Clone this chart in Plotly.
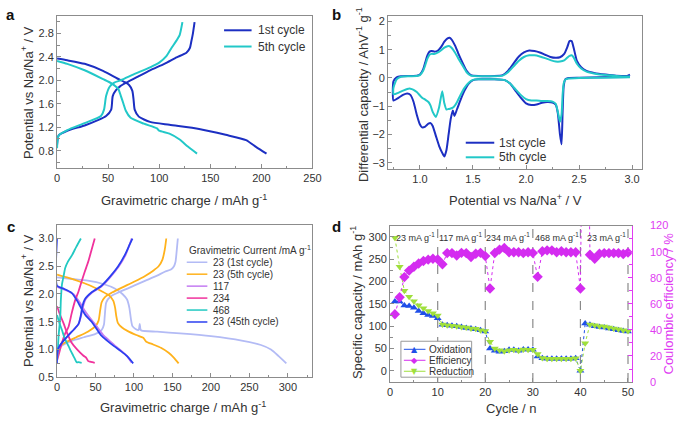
import plotly.graph_objects as go

W, H = 686, 424
FONT = "Liberation Sans, Arial, sans-serif"
TXT = "#333333"
AX = "#8c8c8c"

# ---------------- panel a : galvanostatic profiles ----------------
a_c1_dis_q = [0, 10, 27, 45, 59, 66, 70.5, 73.7, 75, 76, 80, 91, 110, 139, 165, 185, 195, 205]
a_c1_dis_v = [2.37, 2.34, 2.28, 2.16, 2.03, 1.97, 1.92, 1.82, 1.65, 1.50, 1.38, 1.29, 1.24, 1.17, 1.07, 0.98, 0.86, 0.75]
a_c1_ch_q = [0, 1.6, 10, 27, 40, 48, 53, 54.5, 57.7, 62, 69, 80, 91, 105, 117, 126.6, 130, 131.4, 133, 134.6]
a_c1_ch_v = [0.90, 1.06, 1.14, 1.23, 1.32, 1.39, 1.50, 1.73, 1.83, 1.90, 1.97, 2.07, 2.17, 2.28, 2.39, 2.47, 2.55, 2.66, 2.80, 2.99]
a_c5_dis_q = [0, 10, 27, 45, 53, 60, 62.5, 65, 67.3, 72, 85, 97.8, 100, 110, 120, 128, 137]
a_c5_dis_v = [2.33, 2.28, 2.17, 2.02, 1.95, 1.85, 1.73, 1.60, 1.48, 1.36, 1.26, 1.18, 1.14, 1.09, 0.99, 0.87, 0.75]
a_c5_ch_q = [0, 1.6, 10, 27, 43, 46, 48, 51.5, 56, 62.5, 75, 91, 100, 107, 112, 117, 120, 122.7]
a_c5_ch_v = [0.84, 1.06, 1.15, 1.27, 1.39, 1.50, 1.73, 1.89, 1.96, 2.00, 2.10, 2.22, 2.30, 2.41, 2.55, 2.68, 2.77, 2.99]

# ---------------- panel b : differential capacity ----------------
b_red_v = [2.98, 2.7, 2.5, 2.40, 2.37, 2.355, 2.345, 2.335, 2.32, 2.30, 2.28, 2.25, 2.20, 2.15, 2.10, 2.05,
           2.00, 1.95, 1.90, 1.85, 1.80, 1.70, 1.55, 1.50, 1.46, 1.42, 1.38, 1.35, 1.325, 1.31, 1.29, 1.27,
           1.25, 1.23, 1.21, 1.18, 1.15, 1.12, 1.10, 1.08, 1.05, 1.02, 1.00, 0.97, 0.94, 0.91, 0.88, 0.84, 0.80, 0.75]
b_c1_red_i = [0.03, 0.02, 0.01, 0.0, -0.05, -0.3, -1.2, -2.35, -2.0, -1.25, -0.95, -0.87, -0.85, -0.88, -0.94, -0.96,
              -0.9, -0.7, -0.45, -0.2, -0.08, -0.05, -0.05, -0.08, -0.2, -0.45, -0.8, -1.1, -1.35, -1.15, -1.45, -2.0,
              -2.55, -2.78, -2.65, -2.4, -2.05, -1.7, -1.6, -1.62, -1.72, -1.75, -1.65, -1.3, -0.85, -0.6, -0.55, -0.6, -0.7, -0.8]
b_c5_red_i = [0.02, 0.01, 0.0, -0.02, -0.06, -0.2, -0.6, -1.3, -1.55, -1.2, -0.92, -0.84, -0.82, -0.82, -0.8, -0.8,
              -0.75, -0.6, -0.4, -0.2, -0.08, -0.05, -0.05, -0.07, -0.17, -0.35, -0.62, -0.85, -1.0, -1.05, -1.08, -1.1,
              -1.12, -0.9, -0.47, -1.05, -1.38, -1.2, -0.98, -0.85, -0.77, -0.7, -0.62, -0.5, -0.42, -0.38, -0.39, -0.45, -0.52, -0.58]
b_ox_v = [0.75, 0.78, 0.82, 0.9, 0.97, 1.0, 1.03, 1.05, 1.07, 1.09, 1.11, 1.14, 1.17, 1.2, 1.23, 1.26, 1.28, 1.30,
          1.33, 1.36, 1.40, 1.44, 1.48, 1.55, 1.7, 1.78, 1.83, 1.88, 1.93, 1.98, 2.03, 2.08, 2.13, 2.18, 2.23, 2.28,
          2.32, 2.36, 2.39, 2.41, 2.43, 2.45, 2.48, 2.52, 2.57, 2.65, 2.75, 2.85, 2.95, 2.98]
b_c1_ox_i = [-0.12, 0.02, 0.06, 0.07, 0.08, 0.12, 0.3, 0.55, 0.8, 0.93, 0.95, 0.93, 0.97, 1.1, 1.28, 1.4, 1.42, 1.35,
             1.15, 0.88, 0.55, 0.25, 0.1, 0.07, 0.07, 0.1, 0.25, 0.5, 0.75, 0.9, 0.97, 0.95, 0.9, 0.82, 0.74, 0.71,
             0.73, 0.85, 1.1, 1.3, 1.3, 1.05, 0.6, 0.38, 0.25, 0.17, 0.12, 0.08, 0.07, 0.12]
b_c5_ox_i = [-0.35, -0.05, 0.04, 0.06, 0.07, 0.1, 0.25, 0.45, 0.68, 0.82, 0.85, 0.85, 0.9, 0.98, 1.07, 1.12, 1.12, 1.06,
             0.9, 0.7, 0.45, 0.2, 0.08, 0.06, 0.06, 0.08, 0.2, 0.4, 0.6, 0.74, 0.8, 0.8, 0.76, 0.7, 0.63, 0.58,
             0.58, 0.62, 0.72, 0.78, 0.8, 0.72, 0.5, 0.33, 0.22, 0.15, 0.1, 0.07, 0.05, 0.05]

# ---------------- panel c : rate capability profiles ----------------
c_names = ["23 (1st cycle)", "23 (5th cycle)", "117", "234", "468", "23 (45th cycle)"]
c_colors = ["#b3bbf5", "#ffb21c", "#c47cf2", "#f0329c", "#22c9c2", "#2b3ff0"]
c_ch_q = [
    [0, 2, 10, 20, 35, 50, 58, 61, 62, 64, 70, 85, 100, 115, 130, 140, 148, 152, 154, 155, 156, 157],
    [0, 2, 10, 25, 40, 50, 54, 56, 58, 62, 72, 85, 100, 115, 125, 132, 137, 140, 142],
    [0, 2, 8, 15, 22, 28, 31.5, 34, 37, 46, 58, 69, 80, 89, 94, 97],
    [0, 3, 6.4, 10, 15, 19, 23.4, 28, 32, 36, 40.5, 45, 49],
    [0, 1, 2, 3, 4.2, 5, 6.4, 8.5, 10.6, 14, 19.5, 25, 31],
    [0, 0, 2, 8, 15, 22, 28, 31, 33, 36, 45, 57, 68, 79, 88, 94, 98],
]
c_ch_v = [
    [0.9, 1.02, 1.1, 1.16, 1.22, 1.28, 1.35, 1.45, 1.6, 1.85, 1.96, 2.06, 2.15, 2.24, 2.33, 2.4, 2.44, 2.5, 2.58, 2.7, 2.85, 3.0],
    [0.9, 1.04, 1.12, 1.22, 1.32, 1.42, 1.52, 1.7, 1.85, 1.94, 2.03, 2.12, 2.22, 2.33, 2.42, 2.5, 2.62, 2.8, 3.0],
    [0.9, 1.03, 1.15, 1.26, 1.36, 1.46, 1.62, 1.78, 1.9, 2.03, 2.14, 2.3, 2.49, 2.7, 2.88, 3.0],
    [0.8, 0.95, 1.12, 1.27, 1.41, 1.65, 1.88, 2.05, 2.23, 2.4, 2.58, 2.8, 3.0],
    [0.8, 1.0, 1.24, 1.4, 1.59, 1.9, 2.17, 2.32, 2.47, 2.58, 2.7, 2.85, 3.0],
    [0.75, 0.9, 1.03, 1.15, 1.26, 1.36, 1.46, 1.62, 1.78, 1.9, 2.03, 2.14, 2.3, 2.49, 2.7, 2.88, 3.0],
]
c_dis_q = [
    [0, 20, 40, 60, 75, 85, 91, 94, 96, 98, 102, 106, 107.5, 108.5, 110, 130, 160, 200, 240, 265, 278, 288, 298],
    [0, 15, 30, 45, 58, 68, 73, 75.5, 77, 79, 84, 92, 103, 112, 116, 125, 135, 145, 152, 158],
    [0, 9, 21, 29, 35, 41, 48, 54, 60, 68, 76, 84, 91, 95, 97],
    [0, 4, 8.5, 13, 19, 26, 34, 38, 40.5, 43, 46, 49],
    [0, 3, 6.4, 10, 15, 18, 21, 23.5, 25.5, 28, 32],
    [0, 0, 8, 19, 26, 32, 38, 45, 51, 57, 65, 74, 83, 91, 96, 99],
]
c_dis_v = [
    [2.30, 2.27, 2.24, 2.18, 2.10, 2.00, 1.90, 1.75, 1.55, 1.42, 1.37, 1.35, 1.46, 1.36, 1.34, 1.32, 1.29, 1.24, 1.16, 1.08, 1.0, 0.88, 0.75],
    [2.35, 2.29, 2.22, 2.14, 2.05, 1.97, 1.88, 1.75, 1.6, 1.48, 1.40, 1.33, 1.26, 1.21, 1.14, 1.09, 1.03, 0.94, 0.85, 0.75],
    [2.13, 2.08, 2.0, 1.86, 1.72, 1.6, 1.48, 1.37, 1.26, 1.16, 1.06, 0.97, 0.88, 0.8, 0.76],
    [1.78, 1.62, 1.47, 1.3, 1.12, 1.0, 0.89, 0.85, 0.79, 0.78, 0.77, 0.76],
    [1.62, 1.48, 1.35, 1.2, 1.06, 0.97, 0.89, 0.82, 0.77, 0.77, 0.76],
    [3.0, 2.15, 2.1, 2.02, 1.88, 1.73, 1.6, 1.5, 1.38, 1.26, 1.16, 1.06, 0.97, 0.88, 0.8, 0.75],
]

# ---------------- panel d : cycling ----------------
cycles = list(range(1, 51))
oxidation = [155, 155, 146, 145, 141, 134, 129, 125, 123, 118, 103, 102, 101, 100, 98, 96, 95, 93, 91, 88,
             50, 45, 43, 44, 47, 47, 45, 48, 48, 47, 32, 28, 27, 27, 27, 27, 27, 27, 28, 0,
             106, 103, 100, 98, 97, 95, 93, 91, 89, 88]
reduction = [298, 233, 179, 166, 156, 147, 140, 134, 129, 124, 104, 102, 101, 100, 98, 97, 95, 94, 91, 89,
             65, 50, 46, 44, 46, 47, 45, 48, 47, 47, 38, 29, 27, 27, 27, 27, 27, 27, 28, 0,
             62, 104, 102, 100, 99, 97, 95, 93, 91, 89]
efficiency = [52, 65, 80.5, 85.5, 88.4, 90.9, 92.9, 93.9, 94.6, 94.1, 90.4, 98.9, 98.9, 97.1, 99.1, 98.9, 95.9, 98.4, 99.1, 96.6,
              71.8, 99, 101.6, 102.8, 99.6, 99.6, 99.6, 98.9, 99.6, 99, 80.7, 100.3, 101, 101, 99.6, 100.3, 99.6, 99.6, 99.6, 71.8,
              400, 97.6, 94.6, 98.4, 98.9, 98.9, 98.9, 98.9, 98.2, 99.3]
rate_bounds = [10, 20, 30, 40, 50]
rate_labels = ["23 mA g<sup>-1</sup>", "117 mA g<sup>-1</sup>", "234 mA g<sup>-1</sup>", "468 mA g<sup>-1</sup>", "23 mA g<sup>-1</sup>"]
rate_label_x = [5.4, 14.9, 24.8, 35.1, 45.5]

C1 = "#1c2fc2"
C5 = "#22c8c8"
OXC = "#1f4fe8"
EFC = "#d42cf0"
RDC = "#9fdf3c"
MAG = "#e03cf2"

fig = go.Figure()

# panel a
for q, v, col in [(a_c1_dis_q, a_c1_dis_v, C1), (a_c1_ch_q, a_c1_ch_v, C1),
                  (a_c5_dis_q, a_c5_dis_v, C5), (a_c5_ch_q, a_c5_ch_v, C5)]:
    fig.add_trace(go.Scatter(x=q, y=v, mode="lines", line=dict(color=col, width=2, shape="spline", smoothing=0.6),
                             xaxis="x", yaxis="y", showlegend=False))

# panel b
fig.add_trace(go.Scatter(x=b_red_v + b_ox_v, y=b_c1_red_i + b_c1_ox_i, mode="lines",
                         line=dict(color=C1, width=2, shape="spline", smoothing=0.5), xaxis="x2", yaxis="y2", showlegend=False))
fig.add_trace(go.Scatter(x=b_red_v + b_ox_v, y=b_c5_red_i + b_c5_ox_i, mode="lines",
                         line=dict(color=C5, width=2, shape="spline", smoothing=0.5), xaxis="x2", yaxis="y2", showlegend=False))

# panel c
for i in range(len(c_names)):
    for q, v in [(c_dis_q[i], c_dis_v[i]), (c_ch_q[i], c_ch_v[i])]:
        fig.add_trace(go.Scatter(x=q, y=v, mode="lines", line=dict(color=c_colors[i], width=1.8, shape="spline", smoothing=0.6),
                                 xaxis="x3", yaxis="y3", showlegend=False))

# panel d
fig.add_trace(go.Scatter(x=cycles, y=oxidation, mode="lines+markers", line=dict(color=OXC, width=1, dash="dot"),
                         marker=dict(symbol="triangle-up", size=7, color=OXC), xaxis="x4", yaxis="y4", showlegend=False))
fig.add_trace(go.Scatter(x=cycles, y=reduction, mode="lines+markers", line=dict(color=RDC, width=1, dash="dot"),
                         marker=dict(symbol="triangle-down", size=7, color=RDC), xaxis="x4", yaxis="y4", showlegend=False))
fig.add_trace(go.Scatter(x=cycles, y=efficiency, mode="lines+markers", line=dict(color=EFC, width=1, dash="dot"),
                         marker=dict(symbol="diamond", size=8, color=EFC), xaxis="x4", yaxis="y5", showlegend=False))


def pxx(p):
    return p / W


def pxy(p):
    return 1 - p / H


def ax(rng, dtick, mdtick, dom, anchor, fmt=None, col=AX, tcol=TXT, mirror=True, side=None):
    d = dict(range=rng, domain=dom, anchor=anchor, showline=True, linecolor=col, linewidth=1, mirror=mirror,
             ticks="inside", ticklen=4, tickwidth=1, tickcolor=col, dtick=dtick, tick0=0,
             tickfont=dict(size=11, color=tcol, family=FONT), showgrid=False, zeroline=False,
             minor=dict(ticks="inside", ticklen=2.5, dtick=mdtick, tick0=0, tickcolor=col, showgrid=False))
    if fmt:
        d["tickformat"] = fmt
    if side:
        d["side"] = side
    return d


xa = [pxx(55), pxx(315)]
ya = [pxy(167), pxy(10)]
xb = [pxx(392), pxx(650)]
yb = [pxy(168), pxy(10)]
xc = [pxx(55), pxx(315)]
yc = [pxy(382), pxy(225)]
xd = [pxx(394), pxx(640)]
yd = [pxy(387), pxy(226)]

fig.update_layout(
    width=W, height=H, margin=dict(l=0, r=0, t=0, b=0),
    paper_bgcolor="white", plot_bgcolor="white",
    font=dict(family=FONT, color=TXT),
    showlegend=False,
    xaxis=ax([0, 250], 50, 25, xa, "y"),
    yaxis=ax([0.5, 3.1], 0.4, 0.2, ya, "x", fmt=".1f"),
    xaxis2=ax([0.7, 3.09], 0.5, 0.25, xb, "y2", fmt=".1f"),
    yaxis2=ax([-3.23, 2.2], 1, 0.5, yb, "x2"),
    xaxis3=ax([0, 332], 50, 25, xc, "y3"),
    yaxis3=ax([0.5, 3.25], 0.5, 0.25, yc, "x3", fmt=".1f"),
    xaxis4=ax([0, 50.8], 10, 5, xd, "y4"),
    yaxis4=ax([-25, 325], 50, 25, yd, "x4", mirror=False),
    yaxis5=ax([0, 120], 20, 10, yd, "x4", col=MAG, tcol=MAG, mirror=False, side="right"),
)
fig.layout.yaxis5.overlaying = "y4"
fig.layout.yaxis5.ticklabelstandoff = 15

ann = []
shapes = []


def text(t, x, y, size=13, color=TXT, rot=0, xanchor="center", bold=False, yanchor="middle", family=FONT):
    ann.append(dict(text=("<b>%s</b>" % t) if bold else t, x=x, y=y, xref="paper", yref="paper", showarrow=False,
                    textangle=rot, xanchor=xanchor, yanchor=yanchor, font=dict(size=size, color=color, family=family)))


# panel labels
text("a", pxx(8), pxy(9), size=15, color="#111", bold=True)
text("b", pxx(339), pxy(9), size=15, color="#111", bold=True)
text("c", pxx(8), pxy(227), size=15, color="#111", bold=True)
text("d", pxx(339), pxy(227), size=15, color="#111", bold=True)

# axis titles
pot = "Potential vs Na/Na<sup>+</sup> / V"
grav = "Gravimetric charge / mAh g<sup>-1</sup>"
text(grav, pxx(184), pxy(200))
text(pot, pxx(25), pxy(89), rot=-90)
text(pot, pxx(522), pxy(200))
text("Differential capacity / AhV<sup>-1</sup> g<sup>-1</sup>", pxx(366), pxy(91), rot=-90)
text(grav, pxx(183), pxy(413))
text(pot, pxx(25), pxy(303), rot=-90)
text("Cycle / n", pxx(518), pxy(414))
text("Specific capacity / mAh g<sup>-1</sup>", pxx(360), pxy(305), rot=-90)
text("Coulombic efficiency / %", pxx(677), pxy(306), rot=-90, color=MAG)

# legend a
for i, (nm, col) in enumerate([("1st cycle", C1), ("5th cycle", C5)]):
    y = 25 + i * 16.7
    shapes.append(dict(type="line", xref="paper", yref="paper", x0=pxx(225), x1=pxx(253), y0=pxy(y), y1=pxy(y),
                       line=dict(color=col, width=2)))
    text(nm, pxx(257), pxy(y), size=12, xanchor="left")

# legend b
for i, (nm, col) in enumerate([("1st cycle", C1), ("5th cycle", C5)]):
    y = 140.7 + i * 15
    shapes.append(dict(type="line", xref="paper", yref="paper", x0=pxx(471), x1=pxx(500), y0=pxy(y), y1=pxy(y),
                       line=dict(color=col, width=2)))
    text(nm, pxx(503), pxy(y), size=12, xanchor="left")

# legend c
text("Gravimetric Current /mA g<sup>-1</sup>", pxx(187), pxy(251), size=10, xanchor="left")
for i, nm in enumerate(c_names):
    y = 263.7 + i * 12.3
    shapes.append(dict(type="line", xref="paper", yref="paper", x0=pxx(187), x1=pxx(208), y0=pxy(y), y1=pxy(y),
                       line=dict(color=c_colors[i], width=1.5)))
    text(nm, pxx(212), pxy(y), size=10, xanchor="left")

# legend d
shapes.append(dict(type="rect", xref="paper", yref="paper", x0=pxx(405), x1=pxx(477), y0=pxy(382), y1=pxy(345),
                   line=dict(color="#999", width=1), fillcolor="white", layer="above"))
for i, (nm, col, sym) in enumerate([("Oxidation", OXC, "▲"), ("Efficiency", EFC, "◆"), ("Reduction", RDC, "▼")]):
    y = 353.3 + i * 11.3
    shapes.append(dict(type="line", xref="paper", yref="paper", x0=pxx(408), x1=pxx(430), y0=pxy(y), y1=pxy(y),
                       line=dict(color=col, width=1), layer="above"))
    text(sym, pxx(419), pxy(y), size=8, color=col, family="DejaVu Sans")
    text(nm, pxx(432), pxy(y), size=10, xanchor="left")

# rate boundaries and labels in d
for b in rate_bounds:
    shapes.append(dict(type="line", xref="x4", yref="y4 domain", x0=b, x1=b, y0=0, y1=1,
                       line=dict(color="#8a8a8a", width=1.2, dash="dash"), layer="below"))
for t, x in zip(rate_labels, rate_label_x):
    ann.append(dict(text=t, x=x, y=300, xref="x4", yref="y4", showarrow=False, xanchor="center", yanchor="middle",
                    font=dict(size=9, color=TXT, family=FONT)))

fig.update_layout(annotations=ann, shapes=shapes)
fig.write_html("out.html")
